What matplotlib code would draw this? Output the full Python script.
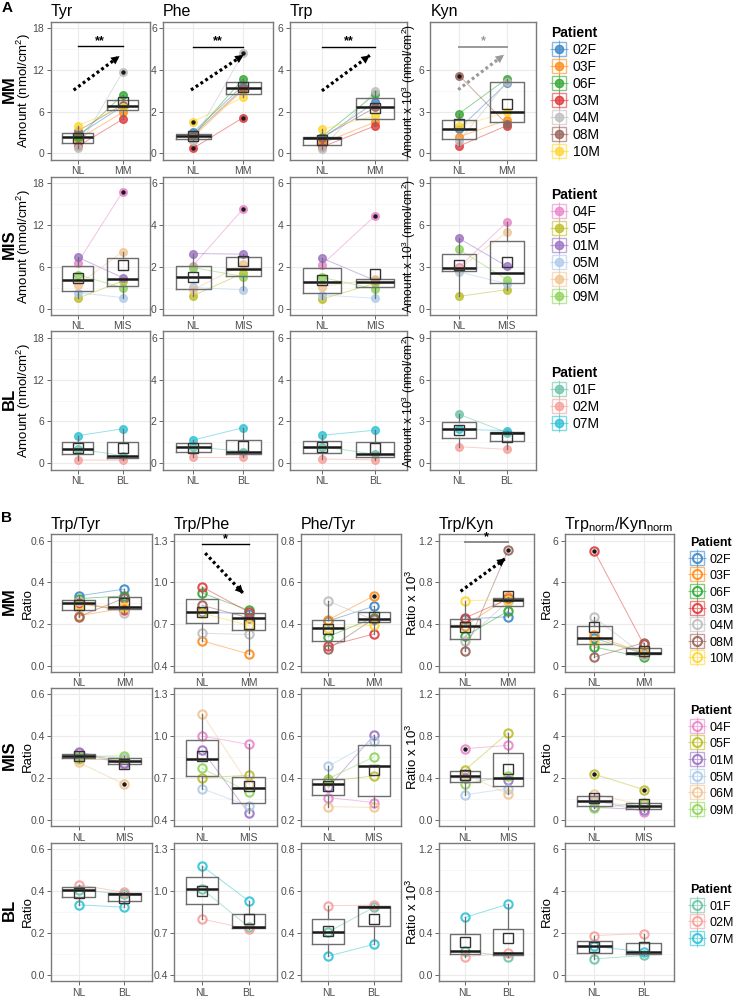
import numpy as np
import matplotlib.pyplot as plt
from matplotlib.lines import Line2D
from matplotlib.legend_handler import HandlerTuple

plt.rcParams['font.family'] = ['Liberation Sans', 'DejaVu Sans']
plt.rcParams['mathtext.fontset'] = 'custom'
plt.rcParams['mathtext.rm'] = 'Liberation Sans'
plt.rcParams['mathtext.it'] = 'Liberation Sans:italic'
plt.rcParams['mathtext.bf'] = 'Liberation Sans:bold'

W, H = 737, 996

# patients of each group, in legend order
MM_PATIENTS = ['02F', '03F', '06F', '03M', '04M', '08M', '10M']
MIS_PATIENTS = ['04F', '05F', '01M', '05M', '06M', '09M']
BL_PATIENTS = ['01F', '02M', '07M']
GROUPS = ['MM', 'MIS', 'BL']
PATIENTS = {'MM': MM_PATIENTS, 'MIS': MIS_PATIENTS, 'BL': BL_PATIENTS}

COLORS = {
    '02F': '#3A87C8', '03F': '#FF8C1A', '06F': '#33A833', '03M': '#E0393B',
    '04M': '#BEBEBE', '08M': '#9A6258', '10M': '#FFD633',
    '04F': '#EA86CB', '05F': '#BDBE2A', '01M': '#9B72C4', '05M': '#AECBEA',
    '06M': '#F2C592', '09M': '#8ED65A',
    '01F': '#6CC5A8', '02M': '#F7A09A', '07M': '#2EC3D6',
}

# panel A: amounts (NL values, lesion values), same order as patient lists
TYR = {
    'MM': ([2.6, 2.0, 2.3, 1.0, 0.7, 3.2, 4.0], [6.8, 5.9, 8.4, 4.9, 11.7, 7.0, 6.6]),
    'MIS': ([6.6, 1.5, 7.4, 2.3, 3.4, 4.9], [16.8, 3.97, 4.45, 1.6, 8.2, 3.0]),
    'BL': ([2.05, 0.48, 3.95], [1.1, 0.43, 4.95]),
}
PHE = {
    'MM': ([1.0, 0.78, 0.85, 0.24, 0.6, 0.88, 1.52], [3.25, 3.05, 3.57, 1.71, 4.8, 3.12, 2.68]),
    'MIS': ([2.06, 0.62, 2.64, 1.02, 0.9, 1.97], [4.77, 1.7, 2.61, 0.9, 2.13, 1.54]),
    'BL': ([0.8, 0.29, 1.11], [0.56, 0.29, 1.7]),
}
TRP = {
    'MM': ([0.72, 0.48, 0.8, 0.3, 0.22, 0.76, 1.15], [2.45, 1.5, 2.83, 1.32, 3.0, 2.2, 1.8]),
    'MIS': ([2.1, 0.46, 2.42, 0.66, 1.06, 1.5], [4.45, 1.22, 1.35, 0.5, 1.42, 0.95]),
    'BL': ([0.8, 0.21, 1.34], [0.43, 0.16, 1.58]),
}
KYN = {
    'MM': ([1.77, 1.19, 2.86, 0.52, 0.88, 5.6, 1.96], [5.05, 2.4, 5.37, 2.0, 5.15, 2.1, 2.95]),
    'MIS': ([3.0, 0.89, 5.04, 2.64, 2.88, 4.25], [6.2, 1.37, 3.05, 1.8, 5.5, 2.09]),
    'BL': ([3.51, 1.19, 2.43], [2.2, 1.0, 2.35]),
}

# panel B: ratios
TRP_TYR = {
    'MM': ([0.335, 0.24, 0.322, 0.30, 0.31, 0.235, 0.29], [0.368, 0.276, 0.335, 0.265, 0.255, 0.325, 0.28]),
    'MIS': ([0.318, 0.29, 0.326, 0.307, 0.275, 0.303], [0.265, 0.29, 0.27, 0.295, 0.17, 0.305]),
    'BL': ([0.406, 0.43, 0.334], [0.385, 0.393, 0.323]),
}
TRP_PHE = {
    'MM': ([0.786, 0.58, 0.924, 0.968, 0.634, 0.835, 0.78], [0.775, 0.485, 0.80, 0.787, 0.625, 0.745, 0.69]),
    'MIS': ([1.0, 0.70, 0.90, 0.625, 1.16, 0.77], [0.94, 0.72, 0.45, 0.50, 0.655, 0.60]),
    'BL': ([1.015, 0.80, 1.18], [0.745, 0.728, 0.93]),
}
PHE_TYR = {
    'MM': ([0.415, 0.42, 0.34, 0.295, 0.51, 0.28, 0.38], [0.485, 0.535, 0.43, 0.352, 0.42, 0.425, 0.395]),
    'MIS': ([0.307, 0.385, 0.355, 0.456, 0.264, 0.397], [0.283, 0.41, 0.603, 0.576, 0.26, 0.50]),
    'BL': ([0.405, 0.53, 0.29], [0.522, 0.533, 0.346]),
}
TRP_KYN = {
    'MM': ([0.448, 0.384, 0.282, 0.458, 0.24, 0.144, 0.624], [0.47, 0.655, 0.525, 0.64, 0.62, 1.11, 0.635]),
    'MIS': ([0.68, 0.475, 0.40, 0.24, 0.44, 0.345], [0.71, 0.83, 0.385, 0.30, 0.245, 0.42]),
    'BL': ([0.23, 0.175, 0.548], [0.175, 0.207, 0.675]),
}
NORM = {
    'MM': ([1.32, 1.46, 0.9, 5.51, 2.33, 0.41, 1.18], [0.58, 0.6, 0.4, 1.02, 0.5, 1.1, 0.7]),
    'MIS': ([0.95, 2.18, 0.6, 0.85, 1.23, 0.55], [0.4, 1.45, 0.5, 0.65, 0.7, 0.82]),
    'BL': ([0.77, 1.88, 1.36], [0.93, 1.97, 1.1]),
}

AMOUNT = 'Amount (nmol/cm$^2$)'
AMOUNT_K = 'Amount x 10$^3$ (nmol/cm$^2$)'
RATIO = 'Ratio'
RATIO_K = 'Ratio x 10$^3$'

# name, data, y range, ticks, y label, label size, pixel x-extent, label x
A_COLS = [
    ('Tyr', TYR, (0, 18), [0, 6, 12, 18], AMOUNT, 9.5, (50.7, 149.7), -0.18),
    ('Phe', PHE, (0, 6), [0, 2, 4, 6], None, 0, (163, 273), 0),
    ('Trp', TRP, (0, 6), [0, 2, 4, 6], None, 0, (290, 407), 0),
    ('Kyn', KYN, (0, 9), [0, 3, 6, 9], AMOUNT_K, 8.6, (430.5, 535.5), -0.12),
]
A_ROWS = [(22, 159.6), (177, 315), (331.4, 469.6)]

B_COLS = [
    ('Trp/Tyr', TRP_TYR, (0, 0.6), [0.0, 0.2, 0.4, 0.6], RATIO, 9.5, (51, 152), -0.17),
    ('Trp/Phe', TRP_PHE, (0.4, 1.3), [0.4, 0.7, 1.0, 1.3], None, 0, (174, 276.5), 0),
    ('Phe/Tyr', PHE_TYR, (0.2, 0.8), [0.2, 0.4, 0.6, 0.8], None, 0, (301, 401), 0),
    ('Trp/Kyn', TRP_KYN, (0, 1.2), [0.0, 0.4, 0.8, 1.2], RATIO_K, 9.5, (439, 534), -0.20),
    (r'Trp$_{\mathrm{norm}}$/Kyn$_{\mathrm{norm}}$', NORM, (0, 6), [0, 2, 4, 6], RATIO, 9.5,
     (564.5, 673.5), -0.11),
]
B_ROWS = [(534.4, 672), (687.7, 826.3), (842.7, 981.3)]

# significance bars and trend arrows (MM row only)
A_SIG = {'Tyr': ('**', 15.4, 'black'), 'Phe': ('**', 5.12, 'black'),
         'Trp': ('**', 5.12, 'black'), 'Kyn': ('*', 7.68, '#9A9A9A')}
A_ARROWS = {'Tyr': ((0.91, 9.1), (1.93, 14.0), 'black'),
            'Phe': ((0.96, 3.04), (2.01, 4.72), 'black'),
            'Trp': ((1.0, 3.0), (1.9, 4.7), 'black'),
            'Kyn': ((0.98, 4.58), (1.94, 7.09), '#9A9A9A')}
B_SIG = {'Trp/Phe': ('*', 1.274, 'black'), 'Trp/Kyn': ('*', 1.184, '#8C8C8C')}
B_ARROWS = {'Trp/Phe': ((1.07, 1.21), (1.89, 0.92), 'black'),
            'Trp/Kyn': ((0.9, 0.714), (1.94, 1.03), 'black')}

fig = plt.figure(figsize=(W / 100, H / 100), dpi=100)


def make_ax(xr, yr):
    l, r = xr
    t, b = yr
    return fig.add_axes([l / W, 1 - b / H, (r - l) / W, (b - t) / H])


def draw_panel(ax, nl, les, patients, group, filled, yrange, yticks):
    x = [1, 2]
    for p, a, b in zip(patients, nl, les):
        c = COLORS[p]
        ax.plot(x, [a, b], color=c, lw=0.7, alpha=0.5, zorder=2)
        if filled:
            ax.plot(x, [a, b], 'o', ls='none', ms=5.5, color=c, alpha=0.8, zorder=3)
        else:
            ax.plot(x, [a, b], 'o', ls='none', ms=6, mfc='none', mec=c, mew=1.5, alpha=0.9, zorder=3)
    ax.boxplot([nl, les], positions=x, widths=0.7, whis=1.5, showcaps=False, manage_ticks=False,
               boxprops=dict(color='#6E6E6E', lw=1.0),
               whiskerprops=dict(color='#6E6E6E', lw=0.9),
               medianprops=dict(color='#1A1A1A', lw=1.8),
               flierprops=dict(marker='o', ms=2.2, mfc='#1A1A1A', mec='#1A1A1A'),
               zorder=4)
    means = [np.mean(nl), np.mean(les)]
    ax.plot(x, means, 's', ls='none', ms=7.5, mfc='none', mec='#333333', mew=1.0, zorder=5)

    lo, hi = yrange
    pad = (hi - lo) * 0.05
    ax.set_xlim(0.4, 2.6)
    ax.set_ylim(lo - pad, hi + pad)
    ax.set_xticks(x, ['NL', group])
    ax.set_yticks(yticks)
    minor = [(yticks[i] + yticks[i + 1]) / 2 for i in range(len(yticks) - 1)]
    ax.set_yticks(minor, minor=True)
    ax.set_axisbelow(True)
    ax.grid(which='major', color='#EBEBEB', lw=0.8)
    ax.grid(which='minor', axis='y', color='#F4F4F4', lw=0.5)
    ax.tick_params(which='major', labelsize=7.5, colors='#4D4D4D', length=3, width=0.6, pad=1.5)
    ax.tick_params(which='minor', length=0)
    for s in ax.spines.values():
        s.set_color('#7A7A7A')
        s.set_linewidth(1.0)


def draw_marks(ax, sig, arrow):
    if sig is not None:
        txt, y, c = sig
        ax.plot([1, 2], [y, y], color=c, lw=1.0 if c == 'black' else 1.4, zorder=6)
        star_color = c if c == '#9A9A9A' else 'black'
        ax.annotate(txt, (1.5, y), xytext=(0, -0.5), textcoords='offset points',
                    ha='center', va='bottom', fontsize=9, color=star_color,
                    fontweight='bold', zorder=6)
    if arrow is not None:
        start, end, c = arrow
        # dotted shaft, then a filled head at the end
        ax.plot([start[0], end[0]], [start[1], end[1]], color=c, lw=2.3,
                ls=(0, (0.9, 0.9)), dash_capstyle='butt', zorder=6)
        ax.annotate('', xy=end, xytext=start,
                    arrowprops=dict(arrowstyle='-|>,head_length=0.6,head_width=0.3', lw=0,
                                    fc=c, ec=c, shrinkA=0, shrinkB=0),
                    zorder=7)


def patient_handles(patients, filled):
    handles = []
    for p in patients:
        c = COLORS[p]
        box = Line2D([], [], marker='s', ls='none', ms=10, mfc='none', mec=c, mew=1.0, alpha=0.6)
        cross = Line2D([], [], marker='+', ls='none', ms=13, mec=c, mew=0.8, alpha=0.6)
        if filled:
            dot = Line2D([], [], marker='o', ls='none', ms=6, color=c, alpha=0.8)
        else:
            dot = Line2D([], [], marker='o', ls='none', ms=6.5, mfc='none', mec=c, mew=1.5, alpha=0.9)
        handles.append((box, cross, dot))
    return handles


def add_legend(patients, filled, x_px, y_px, size):
    leg = fig.legend(patient_handles(patients, filled), patients, title='Patient',
                     loc='upper left', bbox_to_anchor=(x_px / W, 1 - y_px / H),
                     bbox_transform=fig.transFigure, frameon=False, fontsize=size,
                     title_fontproperties={'weight': 'bold', 'size': size},
                     handler_map={tuple: HandlerTuple(ndivide=1, pad=0)},
                     handlelength=1.1, handleheight=1.0, handletextpad=0.45,
                     labelspacing=0.3 if size < 10 else 0.22,
                     borderaxespad=0, borderpad=0, alignment='left')
    return leg


def draw_block(cols, rows, filled, sigs, arrows, legend_x, legend_y, legend_size):
    for ri, group in enumerate(GROUPS):
        for name, data, yrange, yticks, ylab, labsize, xr, labx in cols:
            ax = make_ax(xr, rows[ri])
            nl, les = data[group]
            ticks = yticks
            if name == 'Kyn' and group == 'MM':
                ticks = [0, 3, 6]
            draw_panel(ax, nl, les, PATIENTS[group], group, filled, yrange, ticks)
            if ri == 0:
                ax.set_title(name, loc='left', fontsize=11.5, pad=4)
                draw_marks(ax, sigs.get(name), arrows.get(name))
            if ylab:
                ax.set_ylabel(ylab, fontsize=labsize, color='black')
                ax.yaxis.set_label_coords(labx, 0.5)
        t, b = rows[ri]
        fig.text(9 / W, 1 - ((t + b) / 2 - 2) / H, group, rotation=90, fontsize=12,
                 fontweight='bold', ha='center', va='center')
        add_legend(PATIENTS[group], filled, legend_x, legend_y[ri], legend_size)


draw_block(A_COLS, A_ROWS, True, A_SIG, A_ARROWS, 551, [26, 188, 366], 10)
draw_block(B_COLS, B_ROWS, False, B_SIG, B_ARROWS, 690, [537, 705, 884], 9)

fig.text(7 / W, 1 - 8 / H, 'A', fontsize=11, fontweight='bold', ha='center', va='center')
fig.text(7 / W, 1 - 518 / H, 'B', fontsize=11, fontweight='bold', ha='center', va='center')

fig.savefig('out.png', dpi=100)
